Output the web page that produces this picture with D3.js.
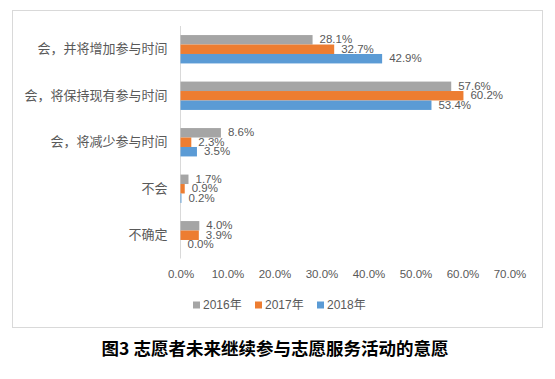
<!DOCTYPE html>
<html><head><meta charset="utf-8">
<script src="https://cdn.jsdelivr.net/npm/d3@7"></script>
<style>body{margin:0;background:#fff;} svg{display:block;}</style>
</head><body>
<svg id="chart" width="555" height="379"></svg>
<script>
const categories = ["会，并将增加参与时间","会，将保持现有参与时间","会，将减少参与时间","不会","不确定"];
const seriesNames = ["2016年","2017年","2018年"];
const values2016 = [28.1, 57.6, 8.6, 1.7, 4.0];
const values2017 = [32.7, 60.2, 2.3, 0.9, 3.9];
const values2018 = [42.9, 53.4, 3.5, 0.2, 0.0];
const xTicks = [0,10,20,30,40,50,60,70];
const colors = ["#A5A5A5","#ED7D31","#5B9BD5"];
const title = "图3 志愿者未来继续参与志愿服务活动的意愿";

const series = [values2016, values2017, values2018];
const svg = d3.select("#chart");
const numFont = "'Liberation Sans', 'Noto Sans CJK SC', sans-serif";
const cjkFont = "'Noto Sans CJK SC', sans-serif";
const textColor = "#595959";

// frame
svg.append("rect").attr("x",12.5).attr("y",10.5).attr("width",530).attr("height",317)
  .attr("fill","none").attr("stroke","#d9d9d9").attr("stroke-width",1);

const x = d3.scaleLinear().domain([0,70]).range([180.5, 509.5]);
const y = d3.scaleBand().domain(categories).range([26, 258.5]).paddingInner(0.39).paddingOuter(0.195);
const ys = d3.scaleBand().domain(d3.range(3)).range([0, y.bandwidth()]);

// axis line
svg.append("line").attr("x1",x(0)).attr("x2",x(0)).attr("y1",26).attr("y2",258.5)
  .attr("stroke","#d9d9d9").attr("stroke-width",1);

// x tick labels via axis
const xAxis = d3.axisBottom(x).tickValues(xTicks).tickFormat(d => d.toFixed(1) + "%").tickSize(0).tickPadding(0);
const gx = svg.append("g").attr("transform","translate(0,270)").call(xAxis);
gx.select(".domain").remove();
gx.selectAll("text").attr("fill",textColor).style("font-family",numFont).style("font-size","11.5px").attr("dy","0.71em").attr("y",0);

// category labels
const gy = svg.append("g").attr("transform",`translate(${x(0)-13},0)`)
  .call(d3.axisLeft(y).tickSize(0).tickPadding(0));
gy.select(".domain").remove();
gy.selectAll("text").attr("fill",textColor).style("font-family",cjkFont).style("font-size","13px");

// bars
series.forEach((vals, si) => {
  const g = svg.append("g");
  g.selectAll("rect").data(vals).join("rect")
    .attr("x", x(0))
    .attr("y", (d,i) => y(categories[i]) + ys(si))
    .attr("width", d => x(d) - x(0))
    .attr("height", ys.bandwidth())
    .attr("fill", colors[si]);
  g.selectAll("text").data(vals).join("text")
    .attr("x", d => x(d) + 7)
    .attr("y", (d,i) => y(categories[i]) + ys(si) + ys.bandwidth()/2 - 0.5)
    .attr("dominant-baseline","central")
    .attr("fill", textColor)
    .style("font-family", numFont).style("font-size","11.5px")
    .text(d => d.toFixed(1) + "%");
});

// legend
const legend = svg.append("g").attr("transform","translate(193,305)");
seriesNames.forEach((n, i) => {
  const gi = legend.append("g").attr("transform",`translate(${i*62},0)`);
  gi.append("rect").attr("x",0).attr("y",-3.5).attr("width",7).attr("height",7).attr("fill",colors[i]);
  gi.append("text").attr("x",10).attr("y",0).attr("dominant-baseline","central")
    .attr("fill",textColor).style("font-family",numFont).style("font-size","12px").text(n);
});

// title
svg.append("text").attr("x",275).attr("y",347).attr("text-anchor","middle").attr("dominant-baseline","central")
  .attr("fill","#000").style("font-family",cjkFont).style("font-weight","bold").style("font-size","17.5px")
  .text(title);
</script>
</body></html>
